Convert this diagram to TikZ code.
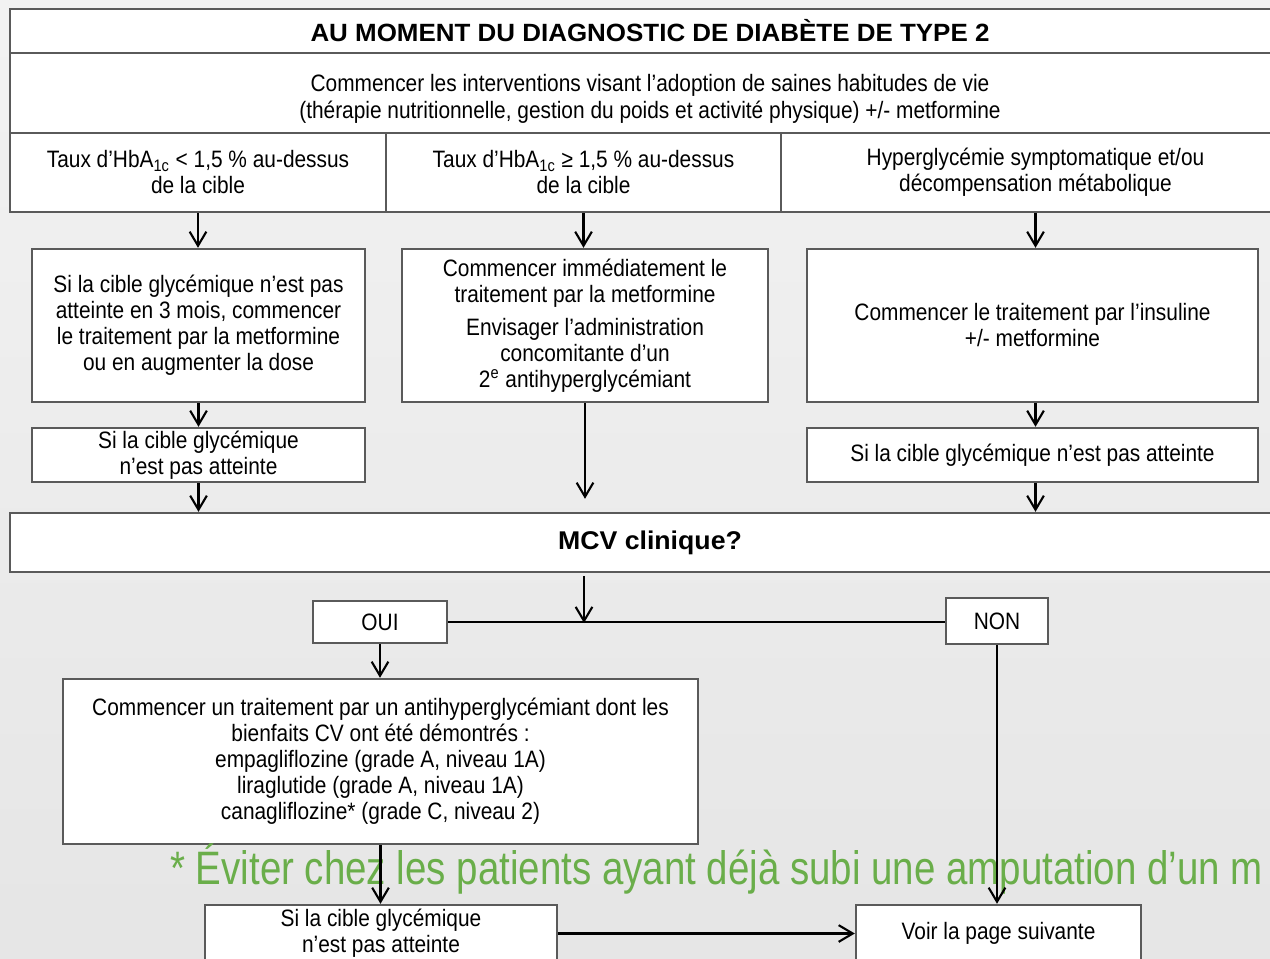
\documentclass[tikz,border=0pt]{standalone}
\usepackage{fontspec}
\setmainfont{Liberation Sans}[FakeStretch=0.88]
\newfontfamily\headfont{Liberation Sans}[FakeStretch=1.04]
\newfontfamily\notefont{Liberation Sans}[FakeStretch=0.82]
\usetikzlibrary{arrows.meta}
\definecolor{boxline}{HTML}{5A5A5A}
\definecolor{notegreen}{HTML}{6AAE4A}
\tikzset{
  box/.style={draw=boxline, line width=1.4pt, fill=white, inner sep=0pt, align=center,
    font=\fontsize{13.5}{14.8}\selectfont},
  headbox/.style={box, font=\headfont\bfseries\fontsize{14.2}{17}\selectfont},
  arr/.style={-{Straight Barb[length=8pt,width=9.5pt]}, line width=1.2pt},
}
\begin{document}
\begin{tikzpicture}[x=0.02cm, y=-0.02cm]
\clip (0,0) rectangle (1270,959);
\shade[top color=black!5, bottom color=black!10] (0,0) rectangle (1270,959);

\node[headbox, minimum width=25.6cm, minimum height=0.88cm] (title) at (650,31) {AU MOMENT DU DIAGNOSTIC DE DIABÈTE DE TYPE 2};
\node[box, minimum width=25.6cm, minimum height=1.6cm, font=\fontsize{13.5}{15.4}\selectfont] (interv) at (650,93)
  {\rule{0pt}{17pt}Commencer les interventions visant l’adoption de saines habitudes de vie\\(thérapie nutritionnelle, gestion du poids et activité physique) +/- metformine};
\node[box, minimum width=7.52cm, minimum height=1.58cm] (cond1) at (198,172.5) {Taux d’HbA\textsubscript{1c} < 1,5 \% au-dessus\\de la cible};
\node[box, minimum width=7.9cm, minimum height=1.58cm] (cond2) at (583.5,172.5) {Taux d’HbA\textsubscript{1c} ≥ 1,5 \% au-dessus\\de la cible};
\node[box, minimum width=10.18cm, minimum height=1.58cm] (cond3) at (1035.5,172.5) {Hyperglycémie symptomatique et/ou\\décompensation métabolique};

\node[box, minimum width=6.66cm, minimum height=3.06cm] (a1) at (198.5,325.5)
  {Si la cible glycémique n’est pas\\atteinte en 3 mois, commencer\\le traitement par la metformine\\ou en augmenter la dose};
\node[box, minimum width=7.32cm, minimum height=3.06cm] (b1) at (585,325.5)
  {Commencer immédiatement le\\traitement par la metformine\\[4pt]Envisager l’administration\\concomitante d’un\\2\textsuperscript{e} antihyperglycémiant};
\node[box, minimum width=9.02cm, minimum height=3.06cm] (c1) at (1032.5,325.5) {Commencer le traitement par l’insuline\\+/- metformine};
\node[box, minimum width=6.66cm, minimum height=1.08cm] (a2) at (198.5,455) {Si la cible glycémique\\n’est pas atteinte};
\node[box, minimum width=9.02cm, minimum height=1.08cm] (c2) at (1032.5,455) {Si la cible glycémique n’est pas atteinte};

\node[headbox, minimum width=25.6cm, minimum height=1.18cm, font=\headfont\bfseries\fontsize{14.6}{17}\selectfont] (mcv) at (650,542.5) {MCV clinique?};
\node[box, minimum width=2.68cm, minimum height=0.84cm] (oui) at (380,622) {OUI};
\node[box, minimum width=2.04cm, minimum height=0.92cm] (non) at (997,621) {NON};
\coordinate (split) at (584,623);

\node[box, minimum width=12.7cm, minimum height=3.3cm] (big) at (380.5,761.5)
  {Commencer un traitement par un antihyperglycémiant dont les\\bienfaits CV ont été démontrés :\\empagliflozine (grade A, niveau 1A)\\liraglutide (grade A, niveau 1A)\\canagliflozine* (grade C, niveau 2)};
\node[anchor=base west, inner sep=0pt, text=notegreen, font=\notefont\fontsize{26.7}{30}\selectfont] (note) at (170,884)
  {* Éviter chez les patients ayant déjà subi une amputation d’un m};
\node[box, minimum width=7.04cm, minimum height=1.14cm] (bl) at (381,933.5) {Si la cible glycémique\\n’est pas atteinte};
\node[box, minimum width=5.7cm, minimum height=1.14cm] (voir) at (998.5,933.5) {Voir la page suivante};

\draw[arr] (cond1.south) -- (cond1.south |- a1.north);
\draw[arr] (cond2.south) -- (cond2.south |- b1.north);
\draw[arr] (cond3.south) -- (cond3.south |- c1.north);
\draw[arr] (a1.south) -- (a1.south |- a2.north);
\draw[arr] (cond3.south |- c1.south) -- (cond3.south |- c2.north);
\draw[arr] (a2.south) -- (a2.south |- mcv.north);
\draw[arr] (b1.south) -- ([yshift=0.26cm]b1.south |- mcv.north);
\draw[arr] (cond3.south |- c2.south) -- (cond3.south |- mcv.north);
\draw[line width=1.2pt] (oui.east) -- (oui.east -| non.west);
\draw[arr] ([yshift=-0.06cm]split |- mcv.south) -- (split);
\draw[arr] (oui.south) -- (oui.south |- big.north);
\draw[arr] (big.south) -- (big.south |- bl.north);
\draw[arr] (non.south) -- (non.south |- voir.north);
\draw[arr] (bl.east) -- (bl.east -| voir.west);
\end{tikzpicture}
\end{document}
